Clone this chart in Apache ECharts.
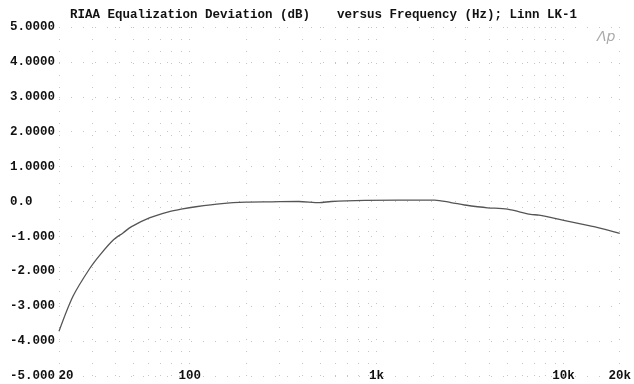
<!DOCTYPE html>
<html><head><meta charset="utf-8">
<script src="https://cdn.jsdelivr.net/npm/echarts@6/dist/echarts.min.js"></script>
<style>html,body{margin:0;padding:0;background:#fff}#c{width:634px;height:384px}</style>
</head><body><div id="c"></div>
<script>
var freqs = [20, 23.8, 29.2, 33.5, 38.9, 44, 48.9, 60.9, 77.9, 90, 107.9, 149, 200, 275, 383, 494, 572, 867, 1303, 2042, 2500, 2950, 3472, 3925, 5010, 6668, 7400, 10030, 13880, 15090, 20000];
var devs  = [-3.72, -2.71, -1.92, -1.5, -1.11, -0.9, -0.72, -0.47, -0.29, -0.22, -0.15, -0.06, -0.02, -0.01, 0.0, -0.03, 0.0, 0.03, 0.04, 0.04, -0.03, -0.10, -0.15, -0.18, -0.22, -0.37, -0.39, -0.54, -0.70, -0.74, -0.91];
var xTickLabels = [20, 100, 1000, 10000, 20000];
var xLabelText = {20: '20', 100: '100', 1000: '1k', 10000: '10k', 20000: '20k'};
var xGridValues = [20,30,40,50,60,70,80,90,100,200,300,400,500,600,700,800,900,1000,2000,3000,4000,5000,6000,7000,8000,9000,10000,20000];
var yLabelText = {'5':'5.0000','4':'4.0000','3':'3.0000','2':'2.0000','1':'1.0000','0':'0.0','-1':'-1.000','-2':'-2.000','-3':'-3.000','-4':'-4.000','-5':'-5.000'};
var titleLeft = 'RIAA Equalization Deviation (dB)';
var titleRight = 'versus Frequency (Hz); Linn LK-1';

var fam = '"Liberation Mono", "DejaVu Sans Mono", monospace';
var lbl = {fontFamily: fam, fontWeight: 'bold', fontSize: 12.5, color: '#111'};
var chart = echarts.init(document.getElementById('c'), null, {renderer: 'canvas'});
chart.setOption({
  animation: false,
  backgroundColor: '#ffffff',
  grid: {left: 59, right: 12, top: 27, bottom: 8},
  graphic: [
    {type: 'text', left: 70, top: 8, style: {text: titleLeft, font: 'bold 12.5px ' + fam, fill: '#111'}},
    {type: 'text', left: 337, top: 8, style: {text: titleRight, font: 'bold 12.5px ' + fam, fill: '#111'}},
    {type: 'text', left: 597, top: 30, style: {text: 'Λp', font: 'italic 14px "DejaVu Sans"', fill: '#aaa'}}
  ],
  xAxis: {
    type: 'log', logBase: 10, min: 20, max: 20000,
    axisLine: {show: false},
    axisTick: {show: false, customValues: xGridValues},
    splitLine: {show: true, lineStyle: {color: '#c4c4c4', type: [1, 11], width: 1}},
    axisLabel: {
      customValues: xTickLabels,
      margin: 0, verticalAlign: 'middle',
      formatter: function (v) { var t = xLabelText[Math.round(v)] || ''; return v < 30 ? '{a|' + t + '}' : '{b|' + t + '}'; },
      rich: {
        a: Object.assign({padding: [0, 0, 0, 14]}, lbl),
        b: Object.assign({}, lbl)
      }
    }
  },
  yAxis: {
    type: 'value', min: -5, max: 5, interval: 1,
    axisLine: {show: false},
    axisTick: {show: false},
    splitLine: {show: true, lineStyle: {color: '#c4c4c4', type: [1, 11], width: 1}},
    axisLabel: Object.assign({
      align: 'left', margin: 49,
      formatter: function (v) { return yLabelText[String(v)]; }
    }, lbl)
  },
  series: [{
    type: 'line',
    data: freqs.map(function (f, i) { return [f, devs[i]]; }),
    showSymbol: false, smooth: 0.3,
    lineStyle: {color: '#555', width: 1.3}
  }]
});
</script></body></html>
